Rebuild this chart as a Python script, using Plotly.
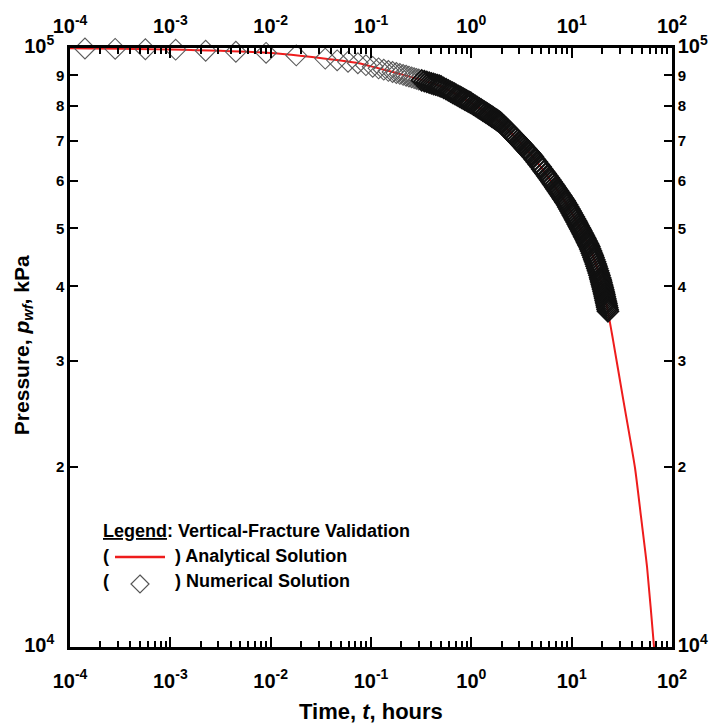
import plotly.graph_objects as go

# ---- Analytical solution (well pressure vs time) ----
t_analytical = [0.0001, 0.001, 0.01, 0.031, 0.078, 0.1, 0.195, 0.49, 1.0, 1.93,
                4.12, 8.78, 14.9, 19.2, 22.5, 25.8, 32.5, 37.3, 42.8, 49.1,
                56.4, 66.2, 71.0]
p_analytical = [99880, 99430, 98100, 96230, 94220, 93170, 90500, 86400, 80900, 75220,
                65780, 55100, 46700, 41400, 37000, 32600, 26000, 22800, 19900, 16500,
                13600, 10000, 8700]

# ---- Numerical solution (simulator time steps) ----
t_numerical = [
    0.000141, 0.000282, 0.000564, 0.00113, 0.00225, 0.0045, 0.009, 0.018,
    0.035, 0.046, 0.059, 0.074,
    0.089, 0.104, 0.119, 0.134, 0.149, 0.164, 0.179, 0.194, 0.209, 0.224,
    0.239, 0.254, 0.269, 0.284, 0.299,
    0.32, 0.34, 0.36, 0.38, 0.40, 0.42, 0.44, 0.46, 0.48, 0.50,
    0.53, 0.56, 0.59, 0.62, 0.65, 0.68, 0.71, 0.74, 0.77, 0.80, 0.83, 0.86,
    0.89, 0.92, 0.95, 0.98,
    1.00, 1.05, 1.10, 1.15, 1.20, 1.25, 1.30, 1.35, 1.40, 1.45, 1.50, 1.55,
    1.60, 1.65, 1.70, 1.75, 1.80, 1.85, 1.90, 1.95,
    2.0, 2.1, 2.2, 2.3, 2.4, 2.5, 2.6, 2.7, 2.8, 2.9, 3.0, 3.1, 3.2, 3.3,
    3.4, 3.5, 3.6, 3.7, 3.8, 3.9, 4.0, 4.1,
    4.3, 4.5, 4.7, 4.9, 5.1, 5.3, 5.5, 5.7, 5.9, 6.1, 6.3, 6.5, 6.7, 6.9,
    7.1, 7.3, 7.5, 7.7, 7.9, 8.1, 8.3, 8.5, 8.7,
    9.0, 9.25, 9.5, 9.75, 10.0, 10.25, 10.5, 10.75, 11.0, 11.25, 11.5, 11.75,
    12.0, 12.25, 12.5, 12.75, 13.0, 13.25, 13.5, 13.75, 14.0, 14.25, 14.5, 14.75,
    15.0, 15.3, 15.6, 15.9, 16.2, 16.5, 16.8, 17.1, 17.4, 17.7, 18.0, 18.3,
    18.6, 18.9, 19.2,
    19.4, 19.6, 19.8, 20.0, 20.2, 20.4, 20.6, 20.8, 21.0, 21.2, 21.4, 21.6,
    21.8, 22.0, 22.2, 22.4, 22.6, 22.8, 23.0,
]
p_numerical = [
    99810, 99680, 99540, 99360, 98960, 98550, 98150, 97200,
    96000, 95370, 94820, 94320,
    93620, 93010, 92470, 92000, 91570, 91190, 90830, 90510, 90180, 89880,
    89590, 89320, 89060, 88820, 88600,
    88300, 88030, 87770, 87530, 87300, 87090, 86880, 86690, 86500, 86230,
    85780, 85360, 84950, 84570, 84210, 83860, 83530, 83210, 82900, 82600, 82320, 82050,
    81780, 81530, 81280, 81040,
    80880, 80460, 80060, 79680, 79310, 78960, 78620, 78300, 77990, 77680, 77390, 77110,
    76840, 76570, 76320, 76070, 75820, 75590, 75360, 75100,
    74780, 74180, 73600, 73040, 72510, 72000, 71510, 71040, 70590, 70150, 69730, 69320,
    68930, 68540, 68170, 67810, 67460, 67120, 66780, 66460, 66140, 65840,
    65170, 64530, 63920, 63330, 62770, 62220, 61700, 61200, 60710, 60240, 59790, 59350,
    58920, 58510, 58100, 57710, 57330, 56960, 56600, 56240, 55900, 55570, 55240,
    54720, 54280, 53850, 53440, 53040, 52650, 52260, 51890, 51520, 51160, 50810, 50470,
    50130, 49810, 49490, 49170, 48860, 48560, 48260, 47970, 47680, 47400, 47120, 46850,
    46560, 46190, 45820, 45450, 45080, 44710, 44330, 43960, 43590, 43220, 42850, 42480,
    42110, 41730, 41360,
    41100, 40830, 40570, 40300, 40040, 39780, 39510, 39250, 38980, 38720, 38450, 38190,
    37930, 37660, 37400, 37130, 36870, 36600, 36340,
]

# ---- Axis ticks ----
x_decades = [1e-4, 1e-3, 1e-2, 1e-1, 1e0, 1e1, 1e2]
x_ticktext = ["10<sup>-4</sup>", "10<sup>-3</sup>", "10<sup>-2</sup>", "10<sup>-1</sup>",
              "10<sup>0</sup>", "10<sup>1</sup>", "10<sup>2</sup>"]
x_minor = [m * 10.0 ** e for e in range(-4, 2) for m in range(2, 10)]

y_ticks = [1e4, 2e4, 3e4, 4e4, 5e4, 6e4, 7e4, 8e4, 9e4, 1e5]
y_digits = ["2", "3", "4", "5", "6", "7", "8", "9"]
big = '<span style="font-size:20px">{}</span>'
y_ticktext_left = ([big.format("10<sup>4</sup>\u2002")] + y_digits
                   + [big.format("10<sup>5</sup>\u2002")])
y_ticktext_right = [big.format("10<sup>4</sup>")] + y_digits + [big.format("10<sup>5</sup>")]

FONT = "Liberation Sans, Arial, sans-serif"
BLACK = "black"
RED = "#ee1c1c"

fig = go.Figure()

fig.add_trace(go.Scatter(
    x=t_analytical, y=p_analytical, mode="lines",
    line=dict(color=RED, width=2, shape="spline", smoothing=0.6),
    showlegend=False, hoverinfo="skip",
))

# early/loosely spaced steps drawn thin and grey, the dense late steps dark
marker_colors = ["#5a5a5a" if t < 0.3 else "#111111" for t in t_numerical]
marker_widths = [1.1 if t < 0.3 else 1.8 for t in t_numerical]
fig.add_trace(go.Scatter(
    x=t_numerical, y=p_numerical, mode="markers",
    marker=dict(symbol="diamond-open", size=16, color=marker_colors,
                line=dict(width=marker_widths)),
    cliponaxis=False, showlegend=False, hoverinfo="skip",
))
# companion trace so the top/right mirror axes get drawn
fig.add_trace(go.Scatter(x=[], y=[], xaxis="x2", yaxis="y2", mode="lines",
                         showlegend=False, hoverinfo="skip"))

x_common = dict(
    type="log", range=[-4, 2], tickmode="array", tickvals=x_decades, ticktext=x_ticktext,
    ticks="inside", ticklen=10, tickwidth=2, tickcolor=BLACK, automargin=False,
    showline=True, linecolor=BLACK, linewidth=2.5, showgrid=False, zeroline=False,
    tickfont=dict(family=FONT, size=20, color=BLACK, weight="bold"),
    minor=dict(tickmode="array", tickvals=x_minor, ticks="inside", ticklen=6,
               tickwidth=1.5, tickcolor=BLACK, showgrid=False),
)
y_common = dict(
    type="log", range=[4, 5], tickmode="array", tickvals=y_ticks,
    ticks="inside", ticklen=8, tickwidth=2, tickcolor=BLACK, automargin=False,
    showline=True, linecolor=BLACK, linewidth=2.5, showgrid=False, zeroline=False,
    tickfont=dict(family=FONT, size=15, color=BLACK, weight="bold"),
)

fig.update_layout(
    width=716, height=725,
    margin=dict(l=70, r=44, t=48, b=78),
    paper_bgcolor="white", plot_bgcolor="white",
    font=dict(family=FONT, color=BLACK),
    xaxis=dict(**x_common, side="bottom", anchor="y", ticklabelstandoff=14),
    xaxis2=dict(**x_common, side="top", anchor="y", overlaying="x", ticklabelstandoff=4),
    yaxis=dict(**y_common, ticktext=y_ticktext_left, side="left", anchor="x"),
    yaxis2=dict(**y_common, ticktext=y_ticktext_right, side="right", anchor="x",
                overlaying="y"),
)

# axis titles
fig.add_annotation(text="<b>Time, <i>t</i>, hours</b>", xref="paper", yref="paper",
                   x=0.5, y=-0.1085, xanchor="center", yanchor="middle",
                   showarrow=False, font=dict(family=FONT, size=22, color=BLACK))
fig.add_annotation(text="<b>Pressure, <i>p</i><sub><i>wf</i></sub>, kPa</b>",
                   xref="paper", yref="paper", x=-0.078, y=0.504, textangle=-90,
                   xanchor="center", yanchor="middle", showarrow=False,
                   font=dict(family=FONT, size=21, color=BLACK))

# legend block
def px_x(px):
    return (px - 70) / 602.0

def px_y(py):
    return (647 - py) / 599.0

legend_font = dict(family=FONT, size=18, color=BLACK)
fig.add_annotation(text="<b><u>Legend</u>: Vertical-Fracture Validation</b>",
                   xref="paper", yref="paper", x=px_x(101), y=px_y(531),
                   xanchor="left", yanchor="middle", showarrow=False, font=legend_font)
for row_y, label in [(556, "Analytical Solution"), (581, "Numerical Solution")]:
    fig.add_annotation(text="<b>(</b>", xref="paper", yref="paper", x=px_x(101),
                       y=px_y(row_y), xanchor="left", yanchor="middle",
                       showarrow=False, font=legend_font)
    fig.add_annotation(text="<b>) " + label + "</b>", xref="paper", yref="paper",
                       x=px_x(173), y=px_y(row_y), xanchor="left", yanchor="middle",
                       showarrow=False, font=legend_font)

fig.add_shape(type="line", xref="paper", yref="paper",
              x0=px_x(115), x1=px_x(165), y0=px_y(557), y1=px_y(557),
              line=dict(color=RED, width=2.5))
cx, cy, h = 140, 584, 9
fig.add_shape(type="path", xref="paper", yref="paper",
              path=(f"M {px_x(cx)} {px_y(cy - h)} L {px_x(cx + h)} {px_y(cy)} "
                    f"L {px_x(cx)} {px_y(cy + h)} L {px_x(cx - h)} {px_y(cy)} Z"),
              line=dict(color="#555555", width=1.2))

fig.write_html("out.html")
